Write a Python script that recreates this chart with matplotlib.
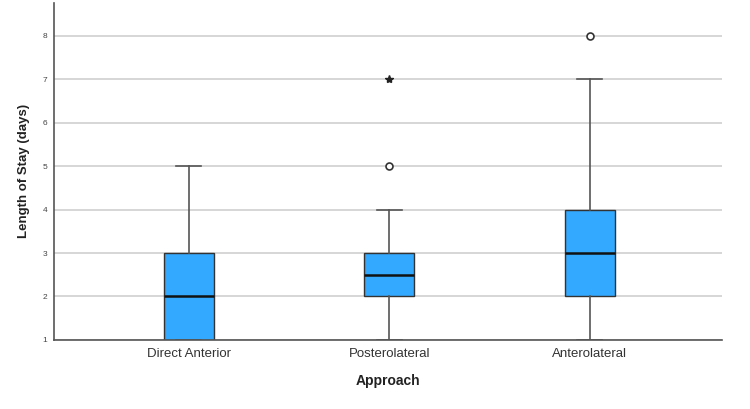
import matplotlib.pyplot as plt

# Summary statistics
approaches = ["Direct Anterior", "Posterolateral", "Anterolateral"]
whisker_low = [1, 1, 1]
q1 = [1, 2, 2]
median = [2, 2.5, 3]
q3 = [3, 3, 4]
whisker_high = [5, 4, 7]
outliers = [[], [5], [8]]        # circles
extremes = [[], [7], []]         # stars

y_ticks = [1, 2, 3, 4, 5, 6, 7, 8]

plt.rcParams['font.family'] = ['Liberation Sans', 'DejaVu Sans']

fig, ax = plt.subplots(figsize=(7.5, 4.09), dpi=100)
fig.subplots_adjust(left=0.072, right=0.963, top=0.993, bottom=0.169)

stats = []
for i, name in enumerate(approaches):
    stats.append({
        "label": name,
        "whislo": whisker_low[i],
        "q1": q1[i],
        "med": median[i],
        "q3": q3[i],
        "whishi": whisker_high[i],
        "fliers": outliers[i],
    })

positions = list(range(len(approaches)))

# Grid behind the boxes
ax.set_axisbelow(True)
ax.yaxis.grid(True, color="#cfcfcf", linewidth=1.2)

ax.bxp(stats, positions=positions, widths=0.25, patch_artist=True,
       boxprops=dict(facecolor="#33aaff", edgecolor="#333333", linewidth=1),
       medianprops=dict(color="#111111", linewidth=1.8),
       whiskerprops=dict(color="#555555", linewidth=1.2),
       capprops=dict(color="#555555", linewidth=1.2),
       capwidths=0.125,
       flierprops=dict(marker="o", markersize=5, markerfacecolor="white",
                       markeredgecolor="#333333", markeredgewidth=1.2))

for i, vals in enumerate(extremes):
    if vals:
        ax.plot([positions[i]] * len(vals), vals, linestyle="none",
                marker="*", markersize=6, color="#222222")

ax.set_xlim(-0.673, 2.66)
ax.set_ylim(1, 8.76)
ax.set_yticks(y_ticks)
ax.set_yticklabels([str(v) for v in y_ticks], fontsize=6, color="#444444")
ax.set_xticks(positions)
ax.set_xticklabels(approaches, fontsize=9.5, color="#333333")
ax.tick_params(axis="both", length=0, pad=6)
ax.tick_params(axis="y", pad=5)

for side in ["top", "right"]:
    ax.spines[side].set_visible(False)
for side in ["left", "bottom"]:
    ax.spines[side].set_color("#555555")
    ax.spines[side].set_linewidth(1.2)

ax.set_ylabel("Length of Stay (days)", fontsize=9.5, fontweight="bold",
              color="#222222", labelpad=9)
ax.set_xlabel("Approach", fontsize=10, fontweight="bold", color="#222222",
              labelpad=10)

plt.savefig("out.png", dpi=100)
